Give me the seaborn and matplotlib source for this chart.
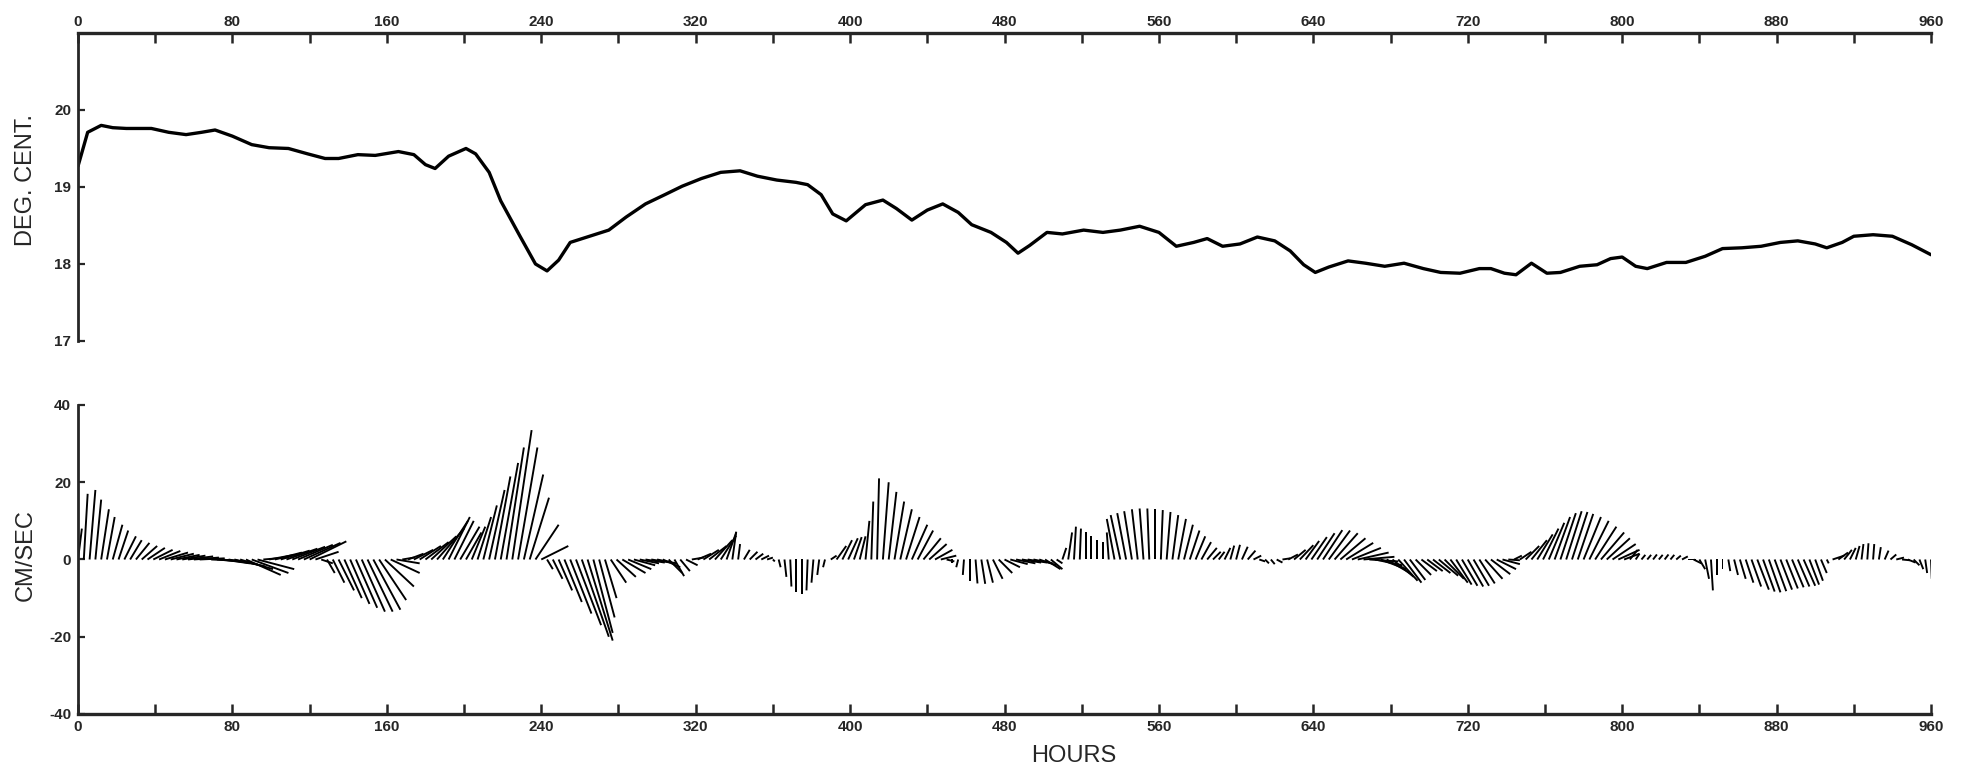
import numpy as np
import pandas as pd
import matplotlib
matplotlib.use("Agg")
import matplotlib.pyplot as plt
import seaborn as sns

# ---------------- temperature series (upper panel) ----------------
temp_hours = [0, 5, 12, 18, 25, 38, 47, 56, 64, 71,
              80, 90, 99, 109, 119, 128, 135, 145, 154, 166,
              174, 180, 185, 192, 201, 206, 213, 219, 229, 237,
              243, 249, 255, 265, 275, 284, 294, 304, 313, 323,
              333, 343, 352, 362, 372, 378, 385, 391, 398, 408,
              417, 424, 432, 440, 448, 456, 463, 473, 481, 487,
              493, 502, 510, 521, 531, 540, 550, 560, 569, 578,
              585, 593, 602, 611, 620, 628, 635, 641, 648, 658,
              667, 677, 687, 697, 706, 716, 726, 732, 739, 745,
              753, 761, 768, 778, 787, 794, 800, 807, 813, 823,
              833, 843, 852, 862, 872, 882, 891, 900, 906, 914,
              920, 930, 940, 950, 960]
temp_degc = [19.27, 19.71, 19.80, 19.77, 19.76, 19.76, 19.71, 19.68, 19.71, 19.74,
             19.66, 19.55, 19.51, 19.50, 19.43, 19.37, 19.37, 19.42, 19.41, 19.46,
             19.42, 19.29, 19.24, 19.40, 19.50, 19.43, 19.19, 18.82, 18.36, 18.00,
             17.91, 18.05, 18.28, 18.36, 18.44, 18.61, 18.78, 18.90, 19.01, 19.11,
             19.19, 19.21, 19.14, 19.09, 19.06, 19.03, 18.90, 18.65, 18.56, 18.77,
             18.83, 18.72, 18.57, 18.70, 18.78, 18.67, 18.51, 18.41, 18.28, 18.14,
             18.24, 18.41, 18.39, 18.44, 18.41, 18.44, 18.49, 18.41, 18.23, 18.28,
             18.33, 18.23, 18.26, 18.35, 18.30, 18.17, 17.99, 17.89, 17.96, 18.04,
             18.01, 17.97, 18.01, 17.94, 17.89, 17.88, 17.94, 17.94, 17.88, 17.86,
             18.01, 17.88, 17.89, 17.97, 17.99, 18.07, 18.09, 17.97, 17.94, 18.02,
             18.02, 18.10, 18.20, 18.21, 18.23, 18.28, 18.30, 18.26, 18.21, 18.28,
             18.36, 18.38, 18.36, 18.25, 18.12]

# ---------------- current vectors (lower panel), every 3 hours ----------------
stick_hours = list(range(0, 961, 3))
u_east = [1, 1, 1.5, 1.5, 2, 2, 2.5, 2.5, 3, 3,
          3.5, 4, 4.5, 5, 5.5, 6, 6, 6, 6, 6.5,
          6.5, 6.5, 6.5, 7, 7, 7, 7.5, 8, 8.5, 9,
          9.5, 9.5, 6, 6.5, 7, 7.5, 8, 8.5, 9, 9.5,
          9.5, 6, 3, 2, 3, 4, 4.5, 5, 5.5, 6,
          6.5, 7, 7, 7.5, 7.5, 6, 3, 4, 5, 5.5,
          6, 6.5, 7, 6.5, 5.5, 5, 5, 4, 3.5, 3.5,
          3.5, 4, 4, 4.5, 4.5, 5, 5, 5, 5, 6,
          7, 1.5, 2.5, 3.5, 4.5, 5.5, 6.5, 7, 6.5, 5,
          4, 3, 4, 5, 6, 6, 5.5, 5, 5, 5,
          5, 4.5, 3.5, 2.5, 2.5, 3, 3, 3.5, 4, 4.5,
          4.5, 4, 2.5, 1, 0.5, 1.5, 2, 2, 2, 1.5,
          0.5, 0.5, 0.5, 0.3, 0, 0, -0.3, -0.5, -0.5, -0.5,
          1.5, 2.5, 2.5, 2.5, 2, 1.5, 1, 0.5, 0.5, 1.5,
          2, 2.5, 3, 3.5, 4, 4, 4.5, 4.5, 4.5, 4,
          2, 0, -0.5, -0.3, 0, 0.5, 1, 1.5, 2.5, 3.5,
          4, 4.5, 5, 5, 5, 5, 4.5, 4, 3, 1.5,
          1, 1, 0.5, 0.3, 0, 0, 0, 0, -0.5, -2,
          -2.5, -2.3, -2, -1.5, -1, -0.5, 0, 0.5, 1, 1.5,
          2, 2.3, 2.5, 2.5, 2.5, 2.5, 2, 1.5, 1.5, 1,
          1, 1.5, 2, 2, 1.5, 1, 1, 1.5, 2, 2.5,
          3, 3.5, 3.5, 4, 4.5, 5, 5.5, 6, 6.5, 7,
          7.5, 8, 8, 7.5, 7, 6.5, 6, 5.5, 5, 4.5,
          4, 4, 4, 4, 4.5, 5, 5, 4.5, 4, 4,
          4, 4, 4, 4.5, 5, 5, 4.5, 3, 2, 3,
          3.5, 4, 4, 4, 4, 4, 4, 4, 4, 4,
          4.5, 5, 5.5, 6, 6, 6, 5.5, 4, 2, 1,
          1, 1, 1, 1, 1, 1, 1.2, 1.5, 2, 2,
          1.5, 1, 0.5, 0, 0, 0.5, 1, 1.5, 2, 2.5,
          3, 3, 3, 3, 3, 3, 3, 3, 3, 2.5,
          2, 1.5, 0.5, 3, 2.5, 2, 1.5, 1, 0.5, 0.3,
          0.3, 0.5, 1, 1.5, 2, 2, 2, 1.5, 1, 0.5,
          0.2]
v_north = [8, 17, 18, 15.5, 13, 11, 9, 7.5, 6, 5,
           4.3, 3.5, 3, 2.5, 2.2, 1.8, 1.5, 1.2, 1, 0.8,
           0.5, 0.3, 0, -0.3, -0.6, -1, -1.3, -1.8, -2.5, -4,
           -3.5, -2.5, 0.5, 1.2, 1.8, 2.3, 2.8, 3.3, 3.8, 4.3,
           4.7, 2, -1, -3.5, -6, -8, -10, -11.5, -12.5, -13.5,
           -13.5, -13, -10.5, -7, -3.5, -1, 0.5, 1.5, 2.5, 3.5,
           4.5, 6, 8, 10, 11, 10, 8.5, 7, 8.5, 11,
           14, 18, 21.5, 25, 29, 33.5, 29, 22, 16, 9,
           3.5, -2.5, -5, -8, -11, -14, -17, -20, -21, -19,
           -15, -10, -6, -4.5, -3.5, -2.5, -1.5, -1, -0.8, -0.8,
           -1, -2, -3.5, -4.3, -3, -1.5, 0.5, 1.5, 2.5, 3.5,
           5, 6.2, 7, 7.2, 4, 2.5, 2, 1.5, 1, 0.5,
           -0.5, -2, -4.5, -7, -8.5, -9, -8, -6, -4, -2,
           1, 3.5, 5, 5.5, 5.8, 6, 10, 15, 21, 20,
           17.5, 15, 13, 11, 9, 7.5, 5.5, 4, 2.5, 1,
           -0.5, -1, -2, -4, -5.5, -6.2, -6.3, -6, -5, -3.5,
           -2, -1.2, -1, -0.8, -0.8, -1, -1.5, -2.5, -2.5, -1,
           3, 7, 8.5, 8, 7, 6, 5, 4.5, 7, 10.5,
           11.5, 12, 12.5, 13, 13.2, 13.2, 13, 12.8, 12.3, 11.5,
           10.5, 9, 7.5, 6, 4.5, 3, 2, 2, 3, 3.6,
           3.8, 3.3, 2.3, 1, -0.5, -1, -1.2, -0.8, 0.3, 1.3,
           2.5, 3.7, 4.8, 5.8, 6.8, 7.6, 7.5, 6.8, 5.5, 4.3,
           3, 1.8, 0.7, -0.5, -1.5, -2.5, -3.5, -4.5, -5.5, -6,
           -5.3, -4, -3, -3, -3.5, -4.2, -5, -6, -6.5, -6.8,
           -7, -6.8, -6.2, -5, -3.8, -2.5, -1.2, -0.2, 1, 2,
           3.5, 5, 6.5, 8, 9.5, 11, 12, 12.5, 12.3, 11.8,
           11, 10, 8.5, 7, 5.5, 4, 2.5, 1.5, 2.5, 1.5,
           1.2, 1.2, 1.3, 1.2, 1.3, 1.2, 1, 0.8, 0, -1,
           -2.5, -5, -8, -4, -2.5, -3, -4, -5, -6, -7,
           -7.8, -8.3, -8.5, -8.2, -7.8, -7.5, -7.2, -7, -6.8, -6.5,
           -5.5, -3.5, -1, 1, 1.8, 2.5, 3, 3.5, 4, 4.2,
           4, 3.2, 2.3, 1.3, 0.5, -0.2, -0.8, -1.5, -2.5, -3.5,
           -5]

x_major = [0, 80, 160, 240, 320, 400, 480, 560, 640, 720, 800, 880, 960]
x_minor = [40, 120, 200, 280, 360, 440, 520, 600, 680, 760, 840, 920]
temp_ticks = [17, 18, 19, 20]
speed_ticks = [-40, -20, 0, 20, 40]

sns.set_style("ticks")
plt.rcParams['font.family'] = ['Liberation Sans', 'DejaVu Sans']
plt.rcParams['axes.unicode_minus'] = False

fig = plt.figure(figsize=(19.65, 7.76), dpi=100)
ax1 = fig.add_axes([0.0397, 0.5606, 0.9430, 0.3969])
ax2 = fig.add_axes([0.0397, 0.0799, 0.9430, 0.3982])

# ---- upper panel ----
df_t = pd.DataFrame({"HOURS": temp_hours, "DEG": temp_degc})
sns.lineplot(data=df_t, x="HOURS", y="DEG", ax=ax1, color="black", linewidth=2.4)
ax1.set_xlim(0, 960)
ax1.set_ylim(17, 21)
ax1.xaxis.tick_top()
ax1.set_xticks(x_major)
ax1.set_xticks(x_minor, minor=True)
ax1.set_xticklabels([str(v) for v in x_major])
ax1.set_yticks(temp_ticks)
ax1.set_yticklabels([str(v) for v in temp_ticks])
for s in ["bottom", "right"]:
    ax1.spines[s].set_visible(False)
ax1.spines["top"].set_linewidth(2.4)
ax1.spines["left"].set_linewidth(2.0)
ax1.tick_params(axis="x", which="both", direction="in", length=7, width=1.8,
                top=True, bottom=False, labeltop=True, labelbottom=False,
                pad=3, labelsize=11)
ax1.tick_params(axis="y", direction="in", length=5, width=1.6, pad=5, labelsize=11)
ax1.set_xlabel("")
ax1.set_ylabel("DEG. CENT.", fontsize=17)
ax1.yaxis.set_label_coords(-0.028, 0.523)
ax1.yaxis.label.set_va("center")

# ---- lower panel: stick plot ----
ax2.set_xlim(0, 960)
ax2.set_ylim(-40, 40)
ax2.quiver(stick_hours, np.zeros(len(stick_hours)), u_east, v_north,
           angles="uv", scale_units="y", scale=1, units="dots", width=1.9,
           headwidth=0, headlength=0, headaxislength=0, minlength=0,
           pivot="tail", color="black")
ax2.set_xticks(x_major)
ax2.set_xticks(x_minor, minor=True)
ax2.set_xticklabels([str(v) for v in x_major])
ax2.set_yticks(speed_ticks)
ax2.set_yticklabels([str(v) for v in speed_ticks])
for s in ["top", "right"]:
    ax2.spines[s].set_visible(False)
ax2.spines["bottom"].set_linewidth(2.4)
ax2.spines["left"].set_linewidth(2.0)
ax2.tick_params(axis="x", which="both", direction="in", length=7, width=1.8,
                pad=4, labelsize=11)
ax2.tick_params(axis="y", direction="in", length=5, width=1.6, pad=5, labelsize=11)
ax2.set_ylabel("CM/SEC", fontsize=17)
ax2.yaxis.set_label_coords(-0.028, 0.515)
ax2.yaxis.label.set_va("center")
ax2.set_xlabel("HOURS", fontsize=17)
ax2.xaxis.set_label_coords(0.5375, -0.136)
ax2.xaxis.label.set_va("center")

for ax in (ax1, ax2):
    for lab in ax.get_xticklabels() + ax.get_yticklabels():
        lab.set_fontweight("bold")

fig.savefig("out.png", dpi=100)
